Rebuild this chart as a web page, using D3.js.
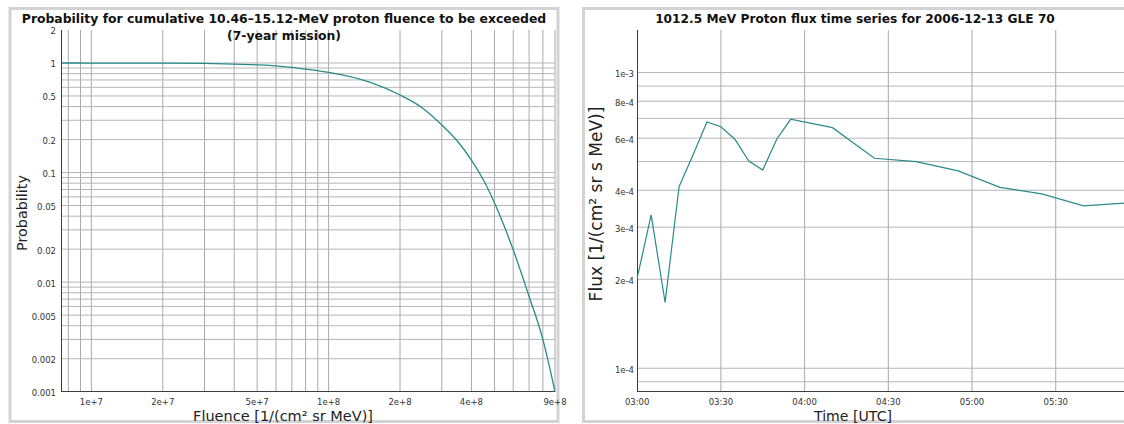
<!DOCTYPE html>
<html><head><meta charset="utf-8">
<script src="https://cdn.jsdelivr.net/npm/d3@7"></script>
<style>
html,body{margin:0;padding:0;background:#fff;overflow:hidden}
svg{display:block;font-family:"DejaVu Sans",Verdana,sans-serif}
</style></head>
<body>
<svg id="c" width="1124" height="424"></svg>
<script>
// ---- Left chart data: exceedance probability vs fluence ----
const fluence = [7.5e6, 1e7, 2e7, 3e7, 4e7, 5e7, 6e7, 7e7, 8e7, 9e7, 1e8, 1.5e8, 2e8, 2.5e8, 3e8, 3.5e8, 4e8, 4.5e8, 5e8, 6e8, 7e8, 8e8, 9e8];
const probability = [1.0, 0.999, 0.996, 0.99, 0.978, 0.962, 0.942, 0.912, 0.88, 0.85, 0.822, 0.665, 0.51, 0.385, 0.272, 0.192, 0.130, 0.085, 0.053, 0.0197, 0.0074, 0.0030, 0.001];
const leftXTicks = [1e7, 2e7, 5e7, 1e8, 2e8, 4e8, 9e8];
const leftXTickLabels = ["1e+7", "2e+7", "5e+7", "1e+8", "2e+8", "4e+8", "9e+8"];
const leftYTicks = [0.001, 0.002, 0.005, 0.01, 0.02, 0.05, 0.1, 0.2, 0.5, 1, 2];
const leftYTickLabels = ["0.001", "0.002", "0.005", "0.01", "0.02", "0.05", "0.1", "0.2", "0.5", "1", "2"];
const leftTitle1 = "Probability for cumulative 10.46\u201315.12-MeV proton fluence to be exceeded";
const leftTitle2 = "(7-year mission)";
const leftXLabel = "Fluence [1/(cm\u00B2 sr MeV)]";
const leftYLabel = "Probability";

// ---- Right chart data: 1012.5 MeV proton flux time series ----
const times = ["03:00","03:05","03:10","03:15","03:20","03:25","03:30","03:35","03:40","03:45","03:50","03:55","04:10","04:25","04:40","04:55","05:10","05:25","05:40","05:55"];
const flux = [2.02e-4, 3.30e-4, 1.67e-4, 4.11e-4, 5.26e-4, 6.81e-4, 6.56e-4, 5.95e-4, 5.02e-4, 4.68e-4, 5.95e-4, 6.95e-4, 6.51e-4, 5.13e-4, 5.00e-4, 4.65e-4, 4.09e-4, 3.89e-4, 3.54e-4, 3.62e-4];
const rightXTicks = ["03:00","03:30","04:00","04:30","05:00","05:30"];
const rightYTicks = [1e-4, 2e-4, 3e-4, 4e-4, 6e-4, 8e-4, 1e-3];
const rightYTickLabels = ["1e-4", "2e-4", "3e-4", "4e-4", "6e-4", "8e-4", "1e-3"];
const rightTitle = "1012.5 MeV Proton flux time series for 2006-12-13 GLE 70";
const rightXLabel = "Time [UTC]";
const rightYLabel = "Flux [1/(cm\u00B2 sr s MeV)]";

const toDate = s => { const [h,m] = s.split(":").map(Number); return new Date(Date.UTC(2006,11,13,h,m)); };

const svg = d3.select("#c");
const LINE = "#2a8a8a", GRID = "#b5b5b5", VGRID = "#a9a9a9", AXIS = "#3c3c3c", BORDER = "#d3d3d3";
const TICKFS = 8.5;

function fit(sel, target){
  const w = sel.node().getComputedTextLength();
  const fs = parseFloat(sel.attr("font-size"));
  sel.attr("font-size", fs * target / w);
}

// panels
svg.append("rect").attr("x",10).attr("y",8.5).attr("width",548).attr("height",413)
  .attr("fill","#fff").attr("stroke",BORDER).attr("stroke-width",3);
svg.append("rect").attr("x",583.5).attr("y",8.5).attr("width",545).attr("height",413)
  .attr("fill","#fff").attr("stroke",BORDER).attr("stroke-width",3);

// ================= LEFT CHART =================
{
  const x = d3.scaleLog().domain([d3.min(fluence), d3.max(fluence)]).range([61.7, 555]);
  const y = d3.scaleLog().domain([0.001, 2]).range([391.7, 30]);
  const g = svg.append("g");
  g.selectAll("line.vg").data(x.ticks()).join("line")
    .attr("x1", d=>x(d)).attr("x2", d=>x(d)).attr("y1", y(2)).attr("y2", y(0.001))
    .attr("stroke", VGRID).attr("stroke-width", 1);
  g.selectAll("line.hg").data(y.ticks().filter(d => d > 0.001 && d <= 1)).join("line")
    .attr("x1", x.range()[0]).attr("x2", x.range()[1]).attr("y1", d=>y(d)).attr("y2", d=>y(d))
    .attr("stroke", GRID).attr("stroke-width", 1);
  g.append("line").attr("x1",61.5).attr("x2",61.5).attr("y1",y(2)).attr("y2",392).attr("stroke",AXIS);
  g.append("line").attr("x1",61.5).attr("x2",x.range()[1]).attr("y1",391.5).attr("y2",391.5).attr("stroke",AXIS);
  g.selectAll("text.yt").data(leftYTicks).join("text")
    .attr("x", 56).attr("y", d=>y(d)+1.5).attr("dy","0.35em").attr("text-anchor","end")
    .attr("font-size",TICKFS).attr("fill","#333").text((d,i)=>leftYTickLabels[i]);
  g.selectAll("text.xt").data(leftXTicks).join("text")
    .attr("x", d=>x(d)).attr("y", 402).attr("dy","0.35em").attr("text-anchor","middle")
    .attr("font-size",TICKFS).attr("fill","#333").text((d,i)=>leftXTickLabels[i]);
  const line = d3.line().x((d,i)=>x(fluence[i])).y(d=>y(d)).curve(d3.curveMonotoneX);
  g.append("path").datum(probability).attr("d", line).attr("fill","none")
    .attr("stroke", LINE).attr("stroke-width", 1.3);
  const t1 = g.append("text").attr("x",284).attr("y",23).attr("text-anchor","middle")
    .attr("font-weight","bold").attr("font-size",13).attr("fill","#111").text(leftTitle1);
  fit(t1, 525);
  g.append("text").attr("x",284).attr("y",39.5).attr("text-anchor","middle")
    .attr("font-weight","bold").attr("font-size",t1.attr("font-size")).attr("fill","#111").text(leftTitle2);
  const xl = g.append("text").attr("x",283).attr("y",421).attr("text-anchor","middle")
    .attr("font-size",14).attr("fill","#222").text(leftXLabel);
  fit(xl, 180);
  const yl = g.append("text").attr("transform","translate(22,213) rotate(-90)").attr("dy","0.35em")
    .attr("text-anchor","middle").attr("font-size",14).attr("fill","#222").text(leftYLabel);
  fit(yl, 76);
}

// ================= RIGHT CHART =================
{
  const dates = times.map(toDate);
  const x = d3.scaleUtc().domain([dates[0], dates[dates.length-1]]).range([637.2, 1125.5]);
  const y = d3.scaleLog().domain([8.33e-5, 1.393e-3]).range([391.7, 30]);
  const g = svg.append("g");
  g.selectAll("line.vg").data(rightXTicks.slice(1).map(toDate)).join("line")
    .attr("x1", d=>x(d)).attr("x2", d=>x(d)).attr("y1", 30).attr("y2", 391.7)
    .attr("stroke", VGRID).attr("stroke-width", 1);
  g.selectAll("line.hg").data(y.ticks()).join("line")
    .attr("x1", x.range()[0]).attr("x2", x.range()[1]).attr("y1", d=>y(d)).attr("y2", d=>y(d))
    .attr("stroke", GRID).attr("stroke-width", 1);
  g.append("line").attr("x1",637.5).attr("x2",637.5).attr("y1",30).attr("y2",392).attr("stroke",AXIS);
  g.append("line").attr("x1",637.5).attr("x2",x.range()[1]).attr("y1",391.5).attr("y2",391.5).attr("stroke",AXIS);
  g.selectAll("text.yt").data(rightYTicks).join("text")
    .attr("x", 634).attr("y", d=>y(d)+1.5).attr("dy","0.35em").attr("text-anchor","end")
    .attr("font-size",TICKFS).attr("fill","#333").text((d,i)=>rightYTickLabels[i]);
  g.selectAll("text.xt").data(rightXTicks).join("text")
    .attr("x", d=>x(toDate(d))).attr("y", 402).attr("dy","0.35em").attr("text-anchor","middle")
    .attr("font-size",TICKFS).attr("fill","#333").text(d=>d);
  const line = d3.line().x((d,i)=>x(dates[i])).y(d=>y(d));
  g.append("path").datum(flux).attr("d", line).attr("fill","none")
    .attr("stroke", LINE).attr("stroke-width", 1.2);
  const t = g.append("text").attr("x",855).attr("y",23).attr("text-anchor","middle")
    .attr("font-weight","bold").attr("font-size",13).attr("fill","#111").text(rightTitle);
  fit(t, 400);
  const xl = g.append("text").attr("x",853).attr("y",421).attr("text-anchor","middle")
    .attr("font-size",14).attr("fill","#222").text(rightXLabel);
  fit(xl, 78);
  const yl = g.append("text").attr("transform","translate(596,204) rotate(-90)").attr("dy","0.35em")
    .attr("text-anchor","middle").attr("font-size",14).attr("fill","#222").text(rightYLabel);
  fit(yl, 195);
}
</script>
</body></html>
